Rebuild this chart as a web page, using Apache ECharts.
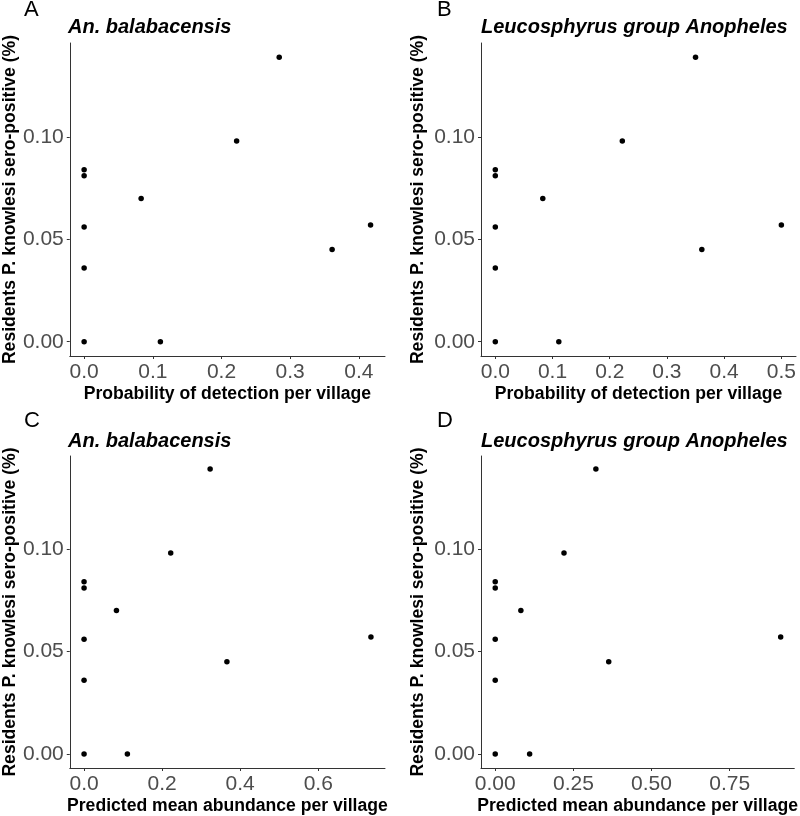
<!DOCTYPE html>
<html>
<head>
<meta charset="utf-8">
<script src="https://cdn.jsdelivr.net/npm/echarts@6/dist/echarts.min.js"></script>
<style>html,body{margin:0;padding:0;background:#fff;}#c{width:800px;height:816px;}</style>
</head>
<body>
<div id="c"></div>
<script>
// Data
var seroPositive       = [0, 0.036, 0.056, 0.081, 0.084, 0.070, 0, 0.098, 0.139, 0.045, 0.057];
var detectBalabacensis = [0, 0, 0, 0, 0, 0.083, 0.111, 0.222, 0.284, 0.361, 0.417];
var detectLeucosphyrus = [0, 0, 0, 0, 0, 0.083, 0.111, 0.222, 0.350, 0.361, 0.500];
var abundBalabacensis  = [0, 0, 0, 0, 0, 0.083, 0.111, 0.222, 0.323, 0.366, 0.735];
var abundLeucosphyrus  = [0, 0, 0, 0, 0, 0.082, 0.110, 0.220, 0.322, 0.363, 0.913];

var yTicks   = [0, 0.05, 0.10];
var xTicksA  = [0, 0.1, 0.2, 0.3, 0.4];
var xTicksB  = [0, 0.1, 0.2, 0.3, 0.4, 0.5];
var xTicksC  = [0, 0.2, 0.4, 0.6];
var xTicksD  = [0, 0.25, 0.5, 0.75];

var panelLetters = ['A', 'B', 'C', 'D'];
var panelTitles  = ['An. balabacensis', 'Leucosphyrus group Anopheles', 'An. balabacensis', 'Leucosphyrus group Anopheles'];
var xNames = ['Probability of detection per village', 'Probability of detection per village',
              'Predicted mean abundance per village', 'Predicted mean abundance per village'];
var yName = 'Residents P. knowlesi sero-positive (%)';

function zip(xs, ys) { return xs.map(function (x, i) { return [x, ys[i]]; }); }

var FONT = "'Liberation Sans', Arial, sans-serif";
var grids = [
  {left: 68, top: 43, width: 317, height: 313},
  {left: 481, top: 43, width: 315, height: 313},
  {left: 68, top: 456, width: 317, height: 313},
  {left: 481, top: 456, width: 315, height: 313}
];
var xRanges = [[-0.0209, 0.438], [-0.025, 0.5256], [-0.0366, 0.771], [-0.0455, 0.9566]];
var yRanges = [[-0.00698, 0.1459], [-0.00698, 0.1459], [-0.00682, 0.1453], [-0.00682, 0.1453]];
var xTickSets = [xTicksA, xTicksB, xTicksC, xTicksD];
var xDigits = [1, 1, 1, 2];
var xData = [detectBalabacensis, detectLeucosphyrus, abundBalabacensis, abundLeucosphyrus];
var yGaps = [50, 54, 50, 54];
var letterPos = [[24, -1], [437, -1], [24, 410], [437, 410]];
var titlePos = [[68, 17], [481, 17], [68, 431], [481, 431]];

var axisLine = {show: true, onZero: false, lineStyle: {color: '#333', width: 1}};
var axisTick = {show: true, length: 3, lineStyle: {color: '#333', width: 1}};

var option = {
  animation: false,
  backgroundColor: '#fff',
  title: [],
  grid: grids,
  xAxis: [],
  yAxis: [],
  series: []
};

for (var i = 0; i < 4; i++) {
  option.title.push({
    text: panelLetters[i], left: letterPos[i][0], top: letterPos[i][1], padding: 0,
    textStyle: {fontFamily: FONT, fontWeight: 'normal', fontSize: 22, color: '#000'}
  });
  option.title.push({
    text: panelTitles[i], left: titlePos[i][0], top: titlePos[i][1], padding: 0,
    textStyle: {fontFamily: FONT, fontWeight: 'bold', fontStyle: 'italic', fontSize: 20, color: '#000'}
  });
  (function (d) {
    option.xAxis.push({
      type: 'value', gridIndex: i, min: xRanges[i][0], max: xRanges[i][1],
      name: xNames[i], nameLocation: 'middle', nameGap: 29,
      nameTextStyle: {fontFamily: FONT, fontWeight: 'bold', fontSize: 17.6, color: '#000'},
      axisLine: axisLine,
      axisTick: Object.assign({customValues: xTickSets[i]}, axisTick),
      axisLabel: {customValues: xTickSets[i], margin: 6, fontFamily: FONT, fontSize: 21, color: '#4d4d4d',
        formatter: function (v) { return v.toFixed(d); }},
      splitLine: {show: false}
    });
  })(xDigits[i]);
  option.yAxis.push({
    type: 'value', gridIndex: i, min: yRanges[i][0], max: yRanges[i][1],
    name: yName, nameLocation: 'middle', nameGap: yGaps[i],
    nameTextStyle: {fontFamily: FONT, fontWeight: 'bold', fontSize: 17.6, color: '#000'},
    axisLine: axisLine,
    axisTick: Object.assign({customValues: yTicks}, axisTick),
    axisLabel: {customValues: yTicks, margin: 6, fontFamily: FONT, fontSize: 21, color: '#4d4d4d',
      formatter: function (v) { return v.toFixed(2); }},
    splitLine: {show: false}
  });
  option.series.push({
    type: 'scatter', xAxisIndex: i, yAxisIndex: i,
    symbol: 'circle', symbolSize: 5.5,
    itemStyle: {color: '#000', opacity: 1},
    data: zip(xData[i], seroPositive)
  });
}

var chart = echarts.init(document.getElementById('c'), null, {renderer: 'canvas'});
chart.setOption(option);
</script>
</body>
</html>
